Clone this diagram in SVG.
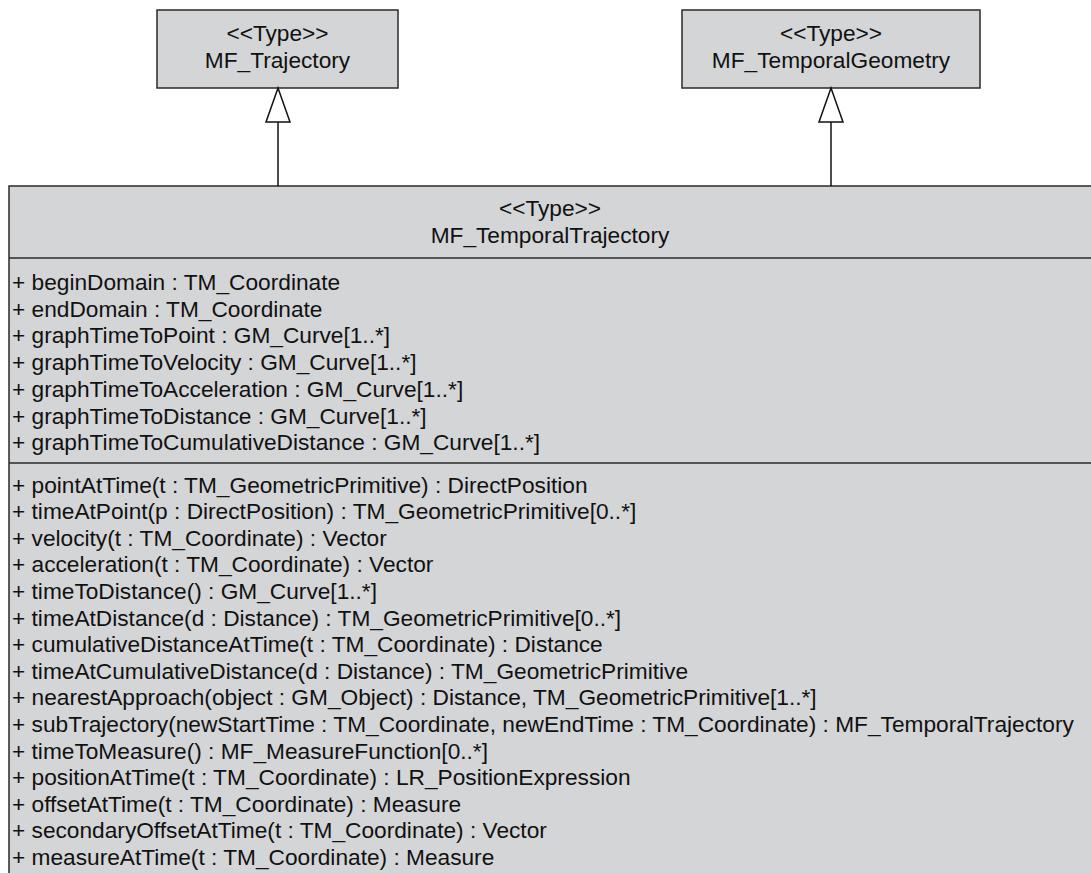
<svg xmlns="http://www.w3.org/2000/svg" width="1091" height="873" viewBox="0 0 1091 873">
<style>
.box{fill:#d4d5d7;stroke:#2a2a2a;stroke-width:1.5}
.sep{stroke:#2a2a2a;stroke-width:1.5}
text{font-family:"Liberation Sans",Arial,sans-serif;font-size:22.7px;fill:#111}
.c{text-anchor:middle}
.conn{stroke:#111;stroke-width:1.5;fill:none}
.tri{fill:#fff;stroke:#111;stroke-width:1.5}
</style>
<rect width="1091" height="873" fill="#fff"/>
<g id="MF_Trajectory">
<rect class="box" x="157" y="10" width="241" height="78"/>
<text class="c" x="277.5" y="41">&lt;&lt;Type&gt;&gt;</text>
<text class="c" x="277.5" y="68">MF_Trajectory</text>
</g>
<g id="MF_TemporalGeometry">
<rect class="box" x="682" y="10" width="298" height="78"/>
<text class="c" x="831" y="41">&lt;&lt;Type&gt;&gt;</text>
<text class="c" x="831" y="68">MF_TemporalGeometry</text>
</g>
<g id="MF_TemporalTrajectory">
<rect class="box" x="9" y="186" width="1090" height="700"/>
<line class="sep" x1="9" y1="258" x2="1091" y2="258"/>
<line class="sep" x1="9" y1="463" x2="1091" y2="463"/>
<text class="c" x="550" y="216">&lt;&lt;Type&gt;&gt;</text>
<text class="c" x="550" y="243">MF_TemporalTrajectory</text>
<text x="12" y="290">+ beginDomain : TM_Coordinate</text>
<text x="12" y="316.7">+ endDomain : TM_Coordinate</text>
<text x="12" y="343.4">+ graphTimeToPoint : GM_Curve[1..*]</text>
<text x="12" y="370.1">+ graphTimeToVelocity : GM_Curve[1..*]</text>
<text x="12" y="396.8">+ graphTimeToAcceleration : GM_Curve[1..*]</text>
<text x="12" y="423.5">+ graphTimeToDistance : GM_Curve[1..*]</text>
<text x="12" y="450.2">+ graphTimeToCumulativeDistance : GM_Curve[1..*]</text>
<text x="12" y="492.5">+ pointAtTime(t : TM_GeometricPrimitive) : DirectPosition</text>
<text x="12" y="519.1">+ timeAtPoint(p : DirectPosition) : TM_GeometricPrimitive[0..*]</text>
<text x="12" y="545.7">+ velocity(t : TM_Coordinate) : Vector</text>
<text x="12" y="572.3">+ acceleration(t : TM_Coordinate) : Vector</text>
<text x="12" y="598.9">+ timeToDistance() : GM_Curve[1..*]</text>
<text x="12" y="625.5">+ timeAtDistance(d : Distance) : TM_GeometricPrimitive[0..*]</text>
<text x="12" y="652.1">+ cumulativeDistanceAtTime(t : TM_Coordinate) : Distance</text>
<text x="12" y="678.7">+ timeAtCumulativeDistance(d : Distance) : TM_GeometricPrimitive</text>
<text x="12" y="705.3">+ nearestApproach(object : GM_Object) : Distance, TM_GeometricPrimitive[1..*]</text>
<text x="12" y="731.9">+ subTrajectory(newStartTime : TM_Coordinate, newEndTime : TM_Coordinate) : MF_TemporalTrajectory</text>
<text x="12" y="758.5">+ timeToMeasure() : MF_MeasureFunction[0..*]</text>
<text x="12" y="785.1">+ positionAtTime(t : TM_Coordinate) : LR_PositionExpression</text>
<text x="12" y="811.7">+ offsetAtTime(t : TM_Coordinate) : Measure</text>
<text x="12" y="838.3">+ secondaryOffsetAtTime(t : TM_Coordinate) : Vector</text>
<text x="12" y="864.9">+ measureAtTime(t : TM_Coordinate) : Measure</text>
</g>
<g id="connectors">
<line class="conn" x1="278" y1="122" x2="278" y2="186"/>
<polygon class="tri" points="278,88 266,122 290,122"/>
<line class="conn" x1="831" y1="122" x2="831" y2="186"/>
<polygon class="tri" points="831,88 819,122 843,122"/>
</g>
</svg>
